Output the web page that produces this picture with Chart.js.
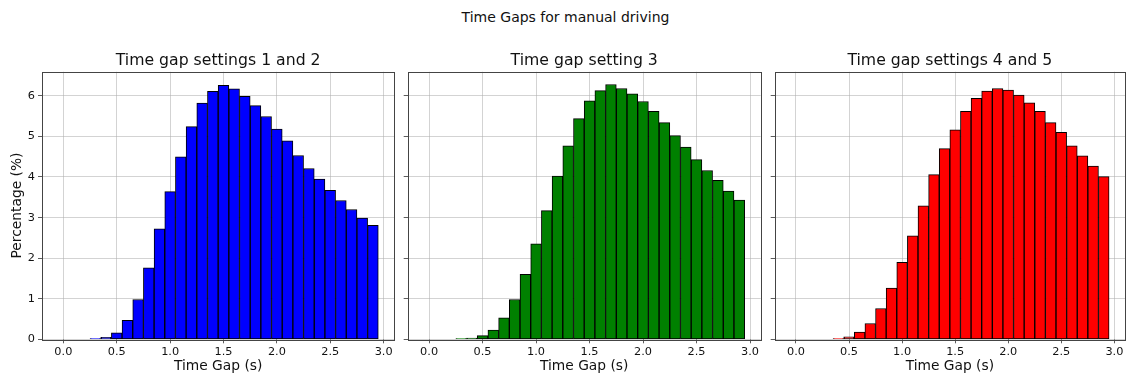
<!DOCTYPE html>
<html>
<head>
<meta charset="utf-8">
<script src="https://cdn.jsdelivr.net/npm/chart.js@4/dist/chart.umd.min.js"></script>
<style>
  html, body { margin: 0; padding: 0; background: #fff; }
  #fig { position: relative; width: 1131px; height: 379px; overflow: hidden; }
  #suptitle {
    position: absolute; left: 0; width: 1131px; top: 9px;
    text-align: center; font-family: "DejaVu Sans", sans-serif;
    font-size: 14px; line-height: 16px; color: #111;
  }
  canvas { position: absolute; top: 0; }
</style>
</head>
<body>
<div id="fig">
  <div id="suptitle">Time Gaps for manual driving</div>
  <canvas id="c1" width="400" height="379" style="left:0px"></canvas>
  <canvas id="c2" width="366" height="379" style="left:400px"></canvas>
  <canvas id="c3" width="365" height="379" style="left:766px"></canvas>
</div>
<script>
// Histogram bin centres (s), bin width 0.1 s
const binCenters = [0.0, 0.1, 0.2, 0.3, 0.4, 0.5, 0.6, 0.7, 0.8, 0.9,
                    1.0, 1.1, 1.2, 1.3, 1.4, 1.5, 1.6, 1.7, 1.8, 1.9,
                    2.0, 2.1, 2.2, 2.3, 2.4, 2.5, 2.6, 2.7, 2.8, 2.9];

// Share of time gaps per bin (%)
const settings12 = [0, 0, 0, 0.02, 0.05, 0.16, 0.47, 0.98, 1.76, 2.72,
                    3.64, 4.50, 5.24, 5.82, 6.11, 6.26, 6.17, 5.99, 5.76, 5.49,
                    5.18, 4.89, 4.53, 4.21, 3.95, 3.67, 3.42, 3.20, 2.99, 2.81];
const setting3   = [0, 0, 0, 0.02, 0.03, 0.09, 0.23, 0.53, 0.98, 1.60,
                    2.35, 3.17, 4.02, 4.77, 5.44, 5.88, 6.13, 6.28, 6.18, 6.05,
                    5.86, 5.62, 5.34, 5.02, 4.74, 4.43, 4.16, 3.92, 3.65, 3.43];
const settings45 = [0, 0, 0, 0, 0.02, 0.06, 0.18, 0.39, 0.76, 1.26,
                    1.90, 2.55, 3.29, 4.06, 4.70, 5.16, 5.62, 5.94, 6.12, 6.18,
                    6.14, 6.02, 5.83, 5.62, 5.34, 5.10, 4.77, 4.52, 4.27, 4.01];

const panelTitles = ['Time gap settings 1 and 2', 'Time gap setting 3', 'Time gap settings 4 and 5'];
const xTicks = [0.0, 0.5, 1.0, 1.5, 2.0, 2.5, 3.0];
const yTicks = [0, 1, 2, 3, 4, 5, 6];

const FONT = '"DejaVu Sans", sans-serif';
const yMax = Math.max(...settings12, ...setting3, ...settings45) * 1.05;

// Frame drawn round the plotting area (all four spines)
const framePlugin = {
  id: 'frame',
  afterDraw(chart) {
    const a = chart.chartArea, ctx = chart.ctx;
    ctx.save();
    ctx.strokeStyle = '#444';
    ctx.lineWidth = 1;
    ctx.strokeRect(Math.round(a.left) + 0.5, Math.round(a.top) + 0.5,
                   Math.round(a.right - a.left), Math.round(a.bottom - a.top));
    ctx.restore();
  }
};

function makePanel(id, values, color, title, opts) {
  const gridColor = 'rgba(176,176,176,0.7)';
  return new Chart(document.getElementById(id), {
    type: 'bar',
    data: {
      datasets: [{
        data: binCenters.map((x, i) => ({ x: x, y: values[i] })),
        backgroundColor: color,
        borderColor: '#000',
        borderWidth: 1,
        borderSkipped: false,
        barPercentage: 1,
        categoryPercentage: 1
      }]
    },
    options: {
      responsive: false,
      animation: false,
      events: [],
      layout: { padding: { left: 0, right: opts.padRight, top: 0, bottom: 0 } },
      plugins: {
        legend: { display: false },
        tooltip: { enabled: false },
        title: {
          display: true,
          fullSize: false,   // centre the title over the plot area
          text: title,
          color: '#111',
          font: { family: FONT, size: 15.7, weight: 'normal', lineHeight: 1.2 },
          padding: { top: 51.6, bottom: 1.3 }
        }
      },
      scales: {
        x: {
          type: 'linear',
          min: -0.2, max: 3.1,
          offset: false,
          z: 1,
          afterBuildTicks: s => { s.ticks = xTicks.map(v => ({ value: v })); },
          afterFit: s => { s.height = 39.7; },
          grid: { offset: false, color: gridColor, lineWidth: 0.8, tickColor: '#333', tickLength: 4, drawTicks: true },
          border: { display: false },
          ticks: {
            color: '#111', padding: 2, maxRotation: 0, autoSkip: false,
            font: { family: FONT, size: 11.3 },
            callback: v => Number(v).toFixed(1)
          },
          title: {
            display: true, text: 'Time Gap (s)', color: '#111',
            font: { family: FONT, size: 13.8, lineHeight: 1.2 },
            padding: { top: 0, bottom: 4.7 }
          }
        },
        y: {
          min: 0, max: yMax,
          z: 1,
          afterBuildTicks: s => { s.ticks = yTicks.map(v => ({ value: v })); },
          afterFit: s => { s.width = opts.yWidth; },
          grid: { offset: false, color: gridColor, lineWidth: 0.8, tickColor: '#333', tickLength: 4, drawTicks: true },
          border: { display: false },
          ticks: {
            display: opts.showY, color: '#111', padding: 3,
            font: { family: FONT, size: 11.3 }
          },
          title: {
            display: opts.showY, text: 'Percentage (%)', color: '#111',
            font: { family: FONT, size: 13.8, lineHeight: 1.2 },
            padding: { top: 9.2, bottom: 0 }
          }
        }
      }
    },
    plugins: [framePlugin]
  });
}

makePanel('c1', settings12, '#0000ff', panelTitles[0], { yWidth: 42, padRight: 5.7, showY: true });
makePanel('c2', setting3, '#008000', panelTitles[1], { yWidth: 7.7, padRight: 5.3, showY: false });
makePanel('c3', settings45, '#ff0000', panelTitles[2], { yWidth: 8.7, padRight: 6, showY: false });
</script>
</body>
</html>
